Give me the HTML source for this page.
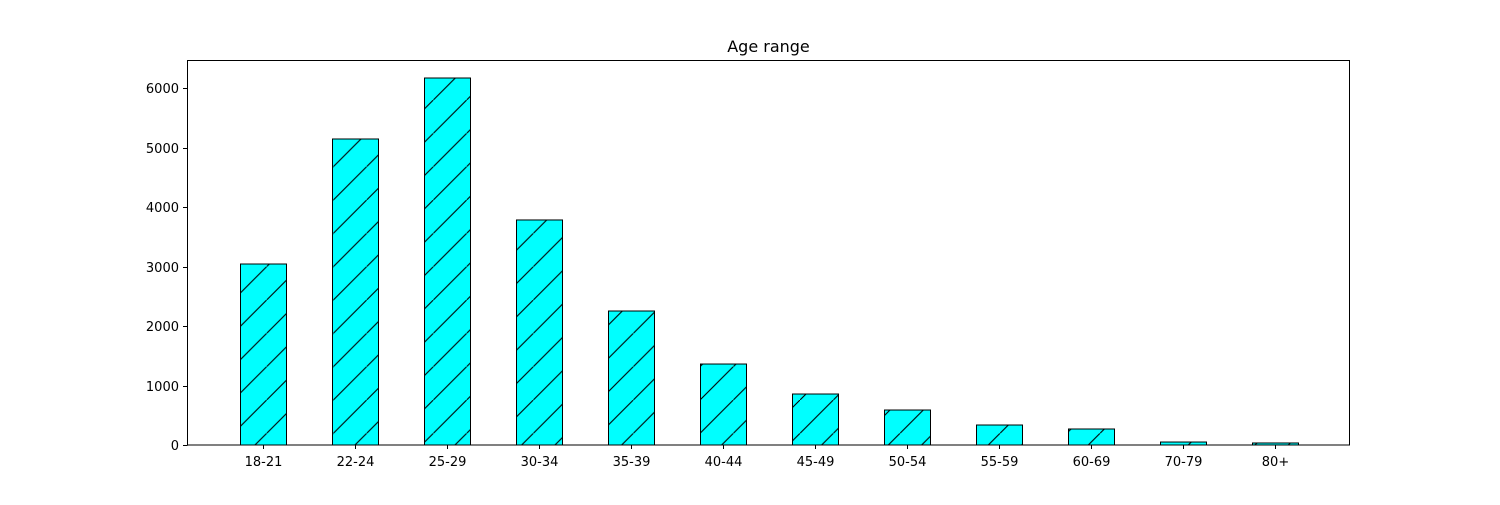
<!DOCTYPE html>
<html><head><meta charset="utf-8"><style>
body{margin:0;background:#fff;}
svg text{font-family:"DejaVu Sans","Liberation Sans",sans-serif;}
</style></head><body>
<svg id="chart" width="1500" height="500" xmlns="http://www.w3.org/2000/svg">
<defs>
<pattern id="hatch" patternUnits="userSpaceOnUse" width="33.333" height="33.333">
<rect width="33.333" height="33.333" fill="#00ffff"/>
<path d="M-5,38.333 L38.333,-5" stroke="#000" stroke-width="1.1"/>
</pattern>
</defs>
<rect x="0" y="0" width="1500" height="500" fill="#fff"/>
<text x="768.5" y="52" font-size="16" text-anchor="middle">Age range</text>
<g id="bars"></g>
<g id="yaxis"></g>
<g id="xaxis"></g>
<rect x="187.5" y="60.5" width="1162" height="384.5" fill="none" stroke="#000" stroke-width="1"/>
</svg>
<script>
const categories=["18-21","22-24","25-29","30-34","35-39","40-44","45-49","50-54","55-59","60-69","70-79","80+"];
const counts=[3042,5143,6168,3782,2252,1361,857,588,336,269,50,34];
const yTicks=[0,1000,2000,3000,4000,5000,6000];
const NS="http://www.w3.org/2000/svg";
const x0=263,step=92,barW=46;
function xPos(i){return x0+i*step;}
function yPos(v){return 445-v*0.0595;}
function mk(t,a){const e=document.createElementNS(NS,t);for(const k in a)e.setAttribute(k,a[k]);return e;}
const bars=document.getElementById('bars'),ya=document.getElementById('yaxis'),xa=document.getElementById('xaxis');
counts.forEach((v,i)=>{
 const r=mk('rect',{x:xPos(i)-barW/2+0.5,y:yPos(v),width:barW,height:445-yPos(v),fill:'url(#hatch)',stroke:'#000','stroke-width':1});
 
 
 bars.appendChild(r);
 const tk=mk('line',{x1:xPos(i)+0.5,x2:xPos(i)+0.5,y1:445,y2:449,stroke:'#000'});
 
 
 xa.appendChild(tk);
 const t=mk('text',{x:xPos(i)+0.5,y:466,'font-size':13,'text-anchor':'middle'});
 t.textContent=categories[i];
 
 
 xa.appendChild(t);
});
yTicks.forEach(v=>{
 const y=Math.round(yPos(v))+0.5;
 const tk=mk('line',{x1:183,x2:187.5,y1:y,y2:y,stroke:'#000'});
 
 
 ya.appendChild(tk);
 const t=mk('text',{x:179,y:y+4.5,'font-size':13,'text-anchor':'end'});
 t.textContent=v;
 
 
 ya.appendChild(t);
});
</script>
</body></html>
